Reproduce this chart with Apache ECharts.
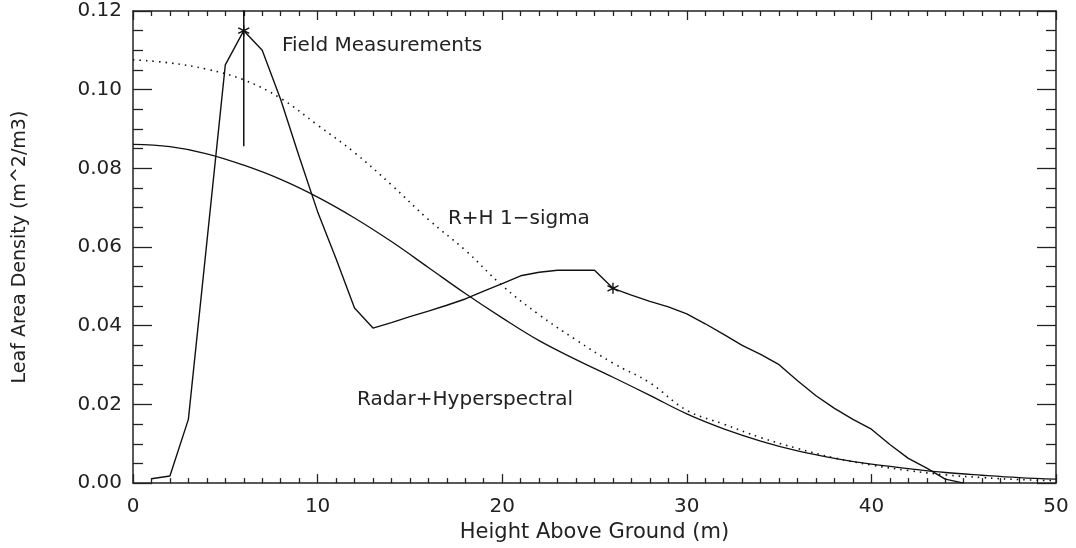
<!DOCTYPE html>
<html>
<head>
<meta charset="UTF-8">
<title>Leaf Area Density</title>
<script type="text/javascript" src="https://cdn.jsdelivr.net/npm/echarts@6/dist/echarts.min.js"></script>
<style>
body { margin: 0; background: #fff; }
</style>
</head>
<body>
	<div id="box" style="width: 1076px; height: 548px;"></div>

	<script type="text/javascript">
		// Radar+Hyperspectral (solid smooth curve)
		var radarX = [0, 2, 4, 6, 8, 10, 12, 14, 16, 18, 20, 22, 24, 26, 28, 30, 32, 34, 36, 38, 40, 42, 44, 46, 48, 50];
		var radarY = [0.0861, 0.0855, 0.0837, 0.0808, 0.0772, 0.0727, 0.0674, 0.0614, 0.0548, 0.0482, 0.0420, 0.0362, 0.0314, 0.0269, 0.0223, 0.0176, 0.0138, 0.0107, 0.0082, 0.0063, 0.0048, 0.0037, 0.0027, 0.0020, 0.0014, 0.0010];
		// R+H 1-sigma (dotted)
		var sigmaY = [0.1076, 0.1068, 0.1052, 0.1025, 0.0978, 0.0910, 0.0840, 0.0758, 0.0670, 0.0592, 0.0502, 0.0428, 0.0364, 0.0305, 0.0255, 0.0185, 0.0150, 0.0116, 0.0088, 0.0064, 0.0046, 0.0032, 0.0021, 0.0014, 0.0009, 0.0006];
		// Field measurements (1 m steps)
		var fieldX = [1, 2, 3, 4, 5, 6, 7, 8, 9, 10, 11, 12, 13, 14, 15, 16, 17, 18, 19, 20, 21, 22, 23, 24, 25, 26, 27, 28, 29, 30, 31, 32, 33, 34, 35, 36, 37, 38, 39, 40, 41, 42, 43, 44, 45];
		var fieldY = [0.0011, 0.0018, 0.0162, 0.0612, 0.1063, 0.1150, 0.1100, 0.0975, 0.0830, 0.0690, 0.0570, 0.0445, 0.0394, 0.0408, 0.0423, 0.0437, 0.0452, 0.0468, 0.0488, 0.0507, 0.0527, 0.0536, 0.0541, 0.0541, 0.0541, 0.0495, 0.0478, 0.0462, 0.0448, 0.0430, 0.0405, 0.0378, 0.0350, 0.0327, 0.0301, 0.0260, 0.0222, 0.0190, 0.0162, 0.0137, 0.0098, 0.0063, 0.0038, 0.0010, 0.0000];
		// asterisks and the vertical error bar
		var starX = [6, 26];
		var starY = [0.1150, 0.0495];
		var barX = 6;
		var barLow = 0.0856;
		var barHigh = 0.1444;
		// curve labels
		var noteText = ['Field Measurements', 'R+H 1\u2212sigma', 'Radar+Hyperspectral'];
		var noteX = [8.07, 17.06, 12.13];
		var noteY = [0.1111, 0.0672, 0.0212];

		var ink = '#111';
		var textInk = '#222';
		var font = 'DejaVu Sans';

		function pairs(xs, ys) {
			var out = [];
			for (var i = 0; i < xs.length; i++) out.push([xs[i], ys[i]]);
			return out;
		}

		var xTicks = {
			min: 0, max: 50, interval: 10,
			axisLine: { show: true, onZero: false, lineStyle: { color: '#222', width: 1.5 } },
			axisTick: { show: true, inside: true, length: 9, lineStyle: { color: '#222', width: 1.3 } },
			minorTick: { show: true, splitNumber: 10, length: 5, lineStyle: { color: '#222', width: 1.3 } },
			splitLine: { show: false }
		};
		var yTicks = {
			min: 0, max: 0.12, interval: 0.02,
			axisLine: { show: true, onZero: false, lineStyle: { color: '#222', width: 1.5 } },
			axisTick: { show: true, inside: true, length: 19, lineStyle: { color: '#222', width: 1.3 } },
			minorTick: { show: true, splitNumber: 4, length: 10, lineStyle: { color: '#222', width: 1.3 } },
			splitLine: { show: false }
		};

		var myChart = echarts.init(document.getElementById('box'));
		myChart.setOption({
			animation: false,
			backgroundColor: '#fff',
			grid: { left: 133, right: 20, top: 11, bottom: 62 },
			xAxis: [
				Object.assign({
					type: 'value', position: 'bottom',
					name: 'Height Above Ground (m)', nameLocation: 'middle', nameGap: 37,
					nameTextStyle: { fontFamily: font, fontSize: 21, color: textInk },
					axisLabel: { margin: 14, fontFamily: font, fontSize: 20, color: textInk }
				}, xTicks),
				Object.assign({ type: 'value', position: 'top', axisLabel: { show: false } }, xTicks)
			],
			yAxis: [
				Object.assign({
					type: 'value', position: 'left',
					name: 'Leaf Area Density (m^2/m3)', nameLocation: 'middle', nameGap: 103,
					nameTextStyle: { fontFamily: font, fontSize: 19, color: textInk },
					axisLabel: {
						margin: 11, fontFamily: font, fontSize: 20, color: textInk,
						formatter: function (v) { return v.toFixed(2); }
					}
				}, yTicks),
				Object.assign({ type: 'value', position: 'right', axisLabel: { show: false } }, yTicks)
			],
			series: [
				{
					name: 'Radar+Hyperspectral', type: 'line', data: pairs(radarX, radarY),
					smooth: 0.4, showSymbol: false,
					lineStyle: { color: ink, width: 1.3 }
				},
				{
					name: 'R+H 1-sigma', type: 'line', data: pairs(radarX, sigmaY),
					smooth: 0.4, showSymbol: false,
					lineStyle: { color: ink, width: 1.6, type: [1.5, 5] }
				},
				{
					name: 'Field Measurements', type: 'line', data: pairs(fieldX, fieldY),
					showSymbol: false,
					lineStyle: { color: ink, width: 1.4 }
				},
				{
					name: 'error bar', type: 'line', data: [[barX, barLow], [barX, barHigh]],
					showSymbol: false, clip: true,
					lineStyle: { color: ink, width: 1.5 }
				},
				{
					name: 'stars', type: 'scatter', data: pairs(starX, starY),
					symbol: 'path://M5,0L5,10M0.67,2.5L9.33,7.5M0.67,7.5L9.33,2.5',
					symbolSize: 11,
					itemStyle: { color: 'transparent', borderColor: ink, borderWidth: 1.4, opacity: 1 }
				},
				{
					name: 'notes', type: 'scatter', symbolSize: 0, silent: true,
					itemStyle: { opacity: 1 },
					data: noteText.map(function (t, i) { return { value: [noteX[i], noteY[i]], name: t }; }),
					label: {
						show: true, position: [0, 0], align: 'left', verticalAlign: 'middle',
						formatter: '{b}', fontFamily: font, fontSize: 20, color: textInk
					}
				}
			]
		});
	</script>

</body>
</html>
